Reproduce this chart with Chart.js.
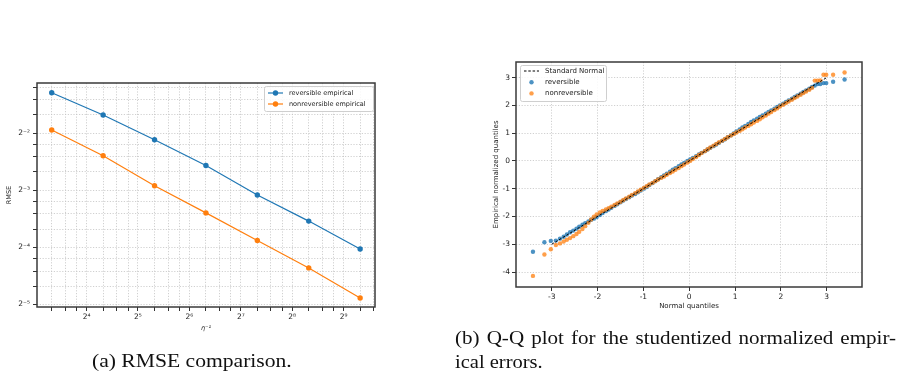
<!DOCTYPE html>
<html>
<head>
<meta charset="utf-8">
<script src="https://cdn.jsdelivr.net/npm/chart.js@4.4.1/dist/chart.umd.min.js"></script>
<style>
  body { margin: 0; background: #fff; width: 909px; height: 379px; overflow: hidden; position: relative; }
  #rmseWrap { position: absolute; left: 0; top: 0; width: 400px; height: 379px; }
  #qqWrap { position: absolute; left: 440px; top: 0; width: 469px; height: 379px; }
  .cap { position: absolute; font-family: "Liberation Serif", "DejaVu Serif", serif; font-size: 18px; line-height: 18px; color: #111; white-space: nowrap; transform-origin: 0 0; }
  #capB1 { width: 377px; text-align: justify; text-align-last: justify; }
</style>
</head>
<body>
<div id="rmseWrap"><canvas id="rmseChart" width="400" height="379"></canvas></div>
<div id="qqWrap"><canvas id="qqChart" width="469" height="379"></canvas></div>
<div class="cap" id="capA" style="left:92px; top:352px; transform:scaleX(1.2);">(a) RMSE comparison.</div>
<div class="cap" id="capB1" style="left:455px; top:329px; transform:scaleX(1.17);">(b) Q-Q plot for the studentized normalized empir-</div>
<div class="cap" id="capB2" style="left:455px; top:353px; transform:scaleX(1.14);">ical errors.</div>

<script>
// (a) RMSE 비교 데이터
const rmseX = [10, 20, 40, 80, 160, 320, 640];
const rmseRev = [0.409, 0.312, 0.231, 0.169, 0.118, 0.086, 0.0613];
const rmseNonrev = [0.260, 0.190, 0.132, 0.095, 0.068, 0.0487, 0.0338];

const rmseXMajor = [8, 16, 32, 64, 128, 256, 512];
const rmseXLabels = ['2³', '2⁴', '2⁵', '2⁶', '2⁷', '2⁸', '2⁹'];
const rmseYMajor = [0.015625, 0.03125, 0.0625, 0.125, 0.25];
const rmseYLabels = ['2⁻⁶', '2⁻⁵', '2⁻⁴', '2⁻³', '2⁻²'];
const logSubs = [1, 1.25, 1.5, 1.75];

// (b) Q-Q 데이터
const qqTheo = [-3.41, -3.16, -3.02, -2.91, -2.82, -2.74, -2.67, -2.60, -2.53, -2.46,
  -2.40, -2.33, -2.27, -2.20, -2.14, -2.08, -2.02, -1.95, -1.89, -1.82,
  -1.76, -1.70, -1.63, -1.57, -1.50, -1.44, -1.38, -1.31, -1.25, -1.18,
  -1.12, -1.06, -0.99, -0.93, -0.87, -0.80, -0.74, -0.68, -0.61, -0.55,
  -0.49, -0.42, -0.36, -0.30, -0.23, -0.17, -0.11, -0.04, 0.02, 0.08,
  0.15, 0.21, 0.27, 0.34, 0.40, 0.46, 0.53, 0.59, 0.65, 0.72,
  0.78, 0.84, 0.91, 0.97, 1.03, 1.10, 1.16, 1.22, 1.29, 1.35,
  1.41, 1.48, 1.54, 1.60, 1.67, 1.73, 1.79, 1.86, 1.92, 1.98,
  2.05, 2.11, 2.17, 2.24, 2.30, 2.36, 2.43, 2.49, 2.55, 2.62,
  2.68, 2.74, 2.80, 2.86, 2.93, 2.99, 3.14, 3.39];
const qqRev = [-3.27, -2.93, -2.88, -2.87, -2.80, -2.73, -2.65, -2.57, -2.51, -2.44,
  -2.37, -2.30, -2.24, -2.18, -2.12, -2.08, -2.02, -1.95, -1.88, -1.81,
  -1.75, -1.69, -1.62, -1.56, -1.49, -1.43, -1.37, -1.31, -1.25, -1.19,
  -1.13, -1.07, -1.00, -0.94, -0.87, -0.80, -0.73, -0.66, -0.59, -0.52,
  -0.46, -0.39, -0.32, -0.26, -0.19, -0.13, -0.07, 0.00, 0.05, 0.11,
  0.17, 0.23, 0.29, 0.35, 0.41, 0.47, 0.53, 0.59, 0.65, 0.72,
  0.78, 0.85, 0.92, 0.99, 1.06, 1.13, 1.20, 1.26, 1.33, 1.40,
  1.46, 1.52, 1.58, 1.64, 1.70, 1.76, 1.82, 1.88, 1.94, 2.00,
  2.06, 2.12, 2.18, 2.24, 2.30, 2.36, 2.42, 2.48, 2.54, 2.60,
  2.66, 2.71, 2.77, 2.77, 2.80, 2.80, 2.85, 2.93];
const qqNonrev = [-4.14, -3.37, -3.18, -3.03, -2.97, -2.90, -2.84, -2.78, -2.71, -2.63,
  -2.55, -2.45, -2.35, -2.23, -2.11, -2.01, -1.93, -1.86, -1.80, -1.75,
  -1.70, -1.65, -1.59, -1.53, -1.47, -1.41, -1.35, -1.29, -1.23, -1.16,
  -1.10, -1.04, -0.97, -0.91, -0.85, -0.79, -0.73, -0.67, -0.61, -0.56,
  -0.50, -0.44, -0.38, -0.32, -0.26, -0.19, -0.13, -0.06, 0.00, 0.07,
  0.14, 0.21, 0.28, 0.35, 0.42, 0.48, 0.55, 0.61, 0.67, 0.73,
  0.79, 0.85, 0.91, 0.97, 1.02, 1.08, 1.14, 1.20, 1.26, 1.32,
  1.38, 1.44, 1.50, 1.57, 1.63, 1.70, 1.76, 1.83, 1.89, 1.96,
  2.02, 2.08, 2.14, 2.20, 2.26, 2.32, 2.38, 2.44, 2.50, 2.56,
  2.63, 2.89, 2.89, 2.90, 3.10, 3.10, 3.10, 3.18];
const qqLine = [-3, 3];
const qqXTicks = [-3, -2, -1, 0, 1, 2, 3];
const qqYTicks = [-4, -3, -2, -1, 0, 1, 2, 3];

const BLUE = '#1f77b4';
const ORANGE = '#ff7f0e';
const FONT = "'DejaVu Sans', sans-serif";
const TICK_COLOR = '#333';
const GRID_COLOR = '#c4c4c4';

Chart.defaults.font.family = FONT;
Chart.defaults.color = '#222';
Chart.defaults.animation = false;

// 로그축 눈금 (주 눈금 + 보조 눈금)
function logTicks(majors, min, max) {
    const out = [];
    majors.forEach(m => {
        logSubs.forEach(s => {
            const v = m * s;
            if (v >= min && v <= max) out.push({ value: v, major: s === 1 });
        });
    });
    return out;
}

function labelFor(v, majors, labels) {
    const i = majors.findIndex(m => Math.abs(m - v) < 1e-9 * m);
    return i < 0 ? '' : labels[i];
}

// 축 테두리 + 범례
const framePlugin = {
    id: 'frame',
    afterDraw(chart, args, opts) {
        const ctx = chart.ctx;
        const a = chart.chartArea;
        ctx.save();
        ctx.strokeStyle = '#3a3a3a';
        ctx.lineWidth = 1.5;
        ctx.strokeRect(a.left, a.top, a.right - a.left, a.bottom - a.top);

        const lg = opts.legend;
        if (lg) {
            const x0 = lg.right ? a.right - lg.offX - lg.w : a.left + lg.offX;
            const y0 = a.top + lg.offY;
            ctx.fillStyle = 'rgba(255,255,255,0.85)';
            ctx.strokeStyle = '#cfcfcf';
            ctx.lineWidth = 1;
            ctx.beginPath();
            ctx.roundRect(x0 + 0.5, y0 + 0.5, lg.w, lg.h, 2);
            ctx.fill();
            ctx.stroke();
            ctx.font = lg.size + 'px ' + FONT;
            ctx.textBaseline = 'middle';
            lg.items.forEach((it, i) => {
                const y = y0 + lg.first + i * lg.gap;
                const lx = x0 + 4;
                if (it.line) {
                    ctx.strokeStyle = it.color;
                    ctx.lineWidth = it.lw;
                    ctx.setLineDash(it.dash || []);
                    ctx.beginPath();
                    ctx.moveTo(lx, y);
                    ctx.lineTo(lx + 15, y);
                    ctx.stroke();
                    ctx.setLineDash([]);
                }
                if (it.dot) {
                    ctx.fillStyle = it.color;
                    ctx.beginPath();
                    ctx.arc(lx + 7.5, y, it.dot, 0, Math.PI * 2);
                    ctx.fill();
                }
                ctx.fillStyle = '#222';
                ctx.fillText(it.text, x0 + lg.textX, y);
            });
        }
        ctx.restore();
    }
};

function gridOpts() {
    return {
        color: GRID_COLOR,
        lineWidth: 0.8,
        tickLength: 4,
        tickColor: TICK_COLOR,
        tickWidth: 1,
        tickBorderDash: [],
        drawTicks: true
    };
}

// (a) RMSE 차트
function initRmseChart() {
    const xMin = 8.2, xMax = 782, yMin = 0.0303, yMax = 0.46;
    new Chart(document.getElementById('rmseChart'), {
        type: 'line',
        data: {
            datasets: [{
                label: 'reversible empirical',
                data: rmseX.map((x, i) => ({ x: x, y: rmseRev[i] })),
                borderColor: BLUE,
                backgroundColor: BLUE,
                borderWidth: 1.2,
                pointRadius: 2.7,
                pointBorderWidth: 0
            }, {
                label: 'nonreversible empirical',
                data: rmseX.map((x, i) => ({ x: x, y: rmseNonrev[i] })),
                borderColor: ORANGE,
                backgroundColor: ORANGE,
                borderWidth: 1.2,
                pointRadius: 2.7,
                pointBorderWidth: 0
            }]
        },
        options: {
            responsive: false,
            devicePixelRatio: 1,
            layout: { padding: { left: 0, top: 83, right: 25, bottom: 46 } },
            plugins: {
                legend: { display: false },
                tooltip: { enabled: false },
                frame: {
                    legend: {
                        right: true, offX: 2, offY: 3, w: 109, h: 25, first: 7, gap: 11,
                        size: 6.5, textX: 25,
                        items: [
                            { text: 'reversible empirical', color: BLUE, line: true, lw: 1.2, dot: 2.7 },
                            { text: 'nonreversible empirical', color: ORANGE, line: true, lw: 1.2, dot: 2.7 }
                        ]
                    }
                }
            },
            scales: {
                x: {
                    type: 'logarithmic',
                    min: xMin,
                    max: xMax,
                    afterFit: s => { s.height = 26; },
                    afterBuildTicks: s => { s.ticks = logTicks(rmseXMajor, xMin, xMax); },
                    grid: gridOpts(),
                    border: { display: false, dash: [1.2, 1.6] },
                    ticks: {
                        autoSkip: false, maxRotation: 0, padding: 2,
                        font: { size: 7.5 }, color: '#222',
                        callback: v => labelFor(v, rmseXMajor, rmseXLabels)
                    },
                    title: {
                        display: true, text: 'η⁻¹',
                        font: { size: 6.5, style: 'italic' },
                        padding: { top: 0, bottom: 1 }
                    }
                },
                y: {
                    type: 'logarithmic',
                    min: yMin,
                    max: yMax,
                    afterFit: s => { s.width = 37; },
                    afterBuildTicks: s => { s.ticks = logTicks(rmseYMajor, yMin, yMax); },
                    grid: gridOpts(),
                    border: { display: false, dash: [1.2, 1.6] },
                    ticks: {
                        autoSkip: false, padding: 3,
                        font: { size: 7.5 }, color: '#222',
                        callback: v => labelFor(v, rmseYMajor, rmseYLabels)
                    },
                    title: {
                        display: true, text: 'RMSE',
                        font: { size: 6.5 },
                        padding: { top: 5, bottom: 0 }
                    }
                }
            }
        },
        plugins: [framePlugin]
    });
}

// (b) Q-Q 차트
function initQQChart() {
    new Chart(document.getElementById('qqChart'), {
        type: 'scatter',
        data: {
            datasets: [{
                type: 'line',
                label: 'Standard Normal',
                data: qqLine.map(v => ({ x: v, y: v })),
                borderColor: '#000',
                borderWidth: 1,
                borderDash: [2.5, 1.8],
                pointRadius: 0,
                order: 0
            }, {
                label: 'reversible',
                data: qqTheo.map((x, i) => ({ x: x, y: qqRev[i] })),
                backgroundColor: 'rgba(31,119,180,0.8)',
                borderWidth: 0,
                pointRadius: 2.2,
                order: 2
            }, {
                label: 'nonreversible',
                data: qqTheo.map((x, i) => ({ x: x, y: qqNonrev[i] })),
                backgroundColor: 'rgba(255,127,14,0.75)',
                borderWidth: 0,
                pointRadius: 2.2,
                order: 1
            }]
        },
        options: {
            responsive: false,
            devicePixelRatio: 1,
            layout: { padding: { left: 50, top: 62, right: 47, bottom: 67 } },
            plugins: {
                legend: { display: false },
                tooltip: { enabled: false },
                frame: {
                    legend: {
                        right: false, offX: 4, offY: 3, w: 86, h: 36, first: 6, gap: 11.2,
                        size: 7, textX: 25,
                        items: [
                            { text: 'Standard Normal', color: '#000', line: true, lw: 1, dash: [2.5, 1.8] },
                            { text: 'reversible', color: 'rgba(31,119,180,0.8)', dot: 2.2 },
                            { text: 'nonreversible', color: 'rgba(255,127,14,0.75)', dot: 2.2 }
                        ]
                    }
                }
            },
            scales: {
                x: {
                    type: 'linear',
                    min: -3.78,
                    max: 3.77,
                    afterFit: s => { s.height = 25; },
                    afterBuildTicks: s => { s.ticks = qqXTicks.map(v => ({ value: v })); },
                    grid: gridOpts(),
                    border: { display: false, dash: [1.2, 1.6] },
                    ticks: { padding: 2, font: { size: 7.5 }, color: '#222', maxRotation: 0 },
                    title: {
                        display: true, text: 'Normal quantiles',
                        font: { size: 7 },
                        padding: { top: 0, bottom: 2 }
                    }
                },
                y: {
                    type: 'linear',
                    min: -4.54,
                    max: 3.56,
                    afterFit: s => { s.width = 26; },
                    afterBuildTicks: s => { s.ticks = qqYTicks.map(v => ({ value: v })); },
                    grid: gridOpts(),
                    border: { display: false, dash: [1.2, 1.6] },
                    ticks: { padding: 2, font: { size: 7.5 }, color: '#222' },
                    title: {
                        display: true, text: 'Empirical normalized quantiles',
                        font: { size: 7 },
                        padding: { top: 2, bottom: 0 }
                    }
                }
            }
        },
        plugins: [framePlugin]
    });
}

document.addEventListener('DOMContentLoaded', () => {
    initRmseChart();
    initQQChart();
});
</script>
</body>
</html>
